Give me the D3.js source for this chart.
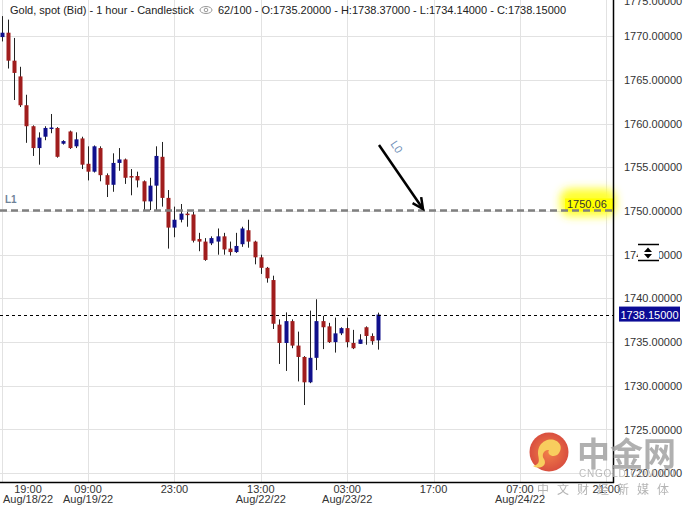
<!DOCTYPE html>
<html>
<head>
<meta charset="utf-8">
<script src="https://d3js.org/d3.v7.min.js"></script>
<style>
  body { margin: 0; background: #fff; }
  svg { display: block; font-family: Arial, "Liberation Sans", sans-serif; }
</style>
</head>
<body>
<script>
// OHLC, one bar per hour, oldest first
var opens  = [1769.9,1770.4,1767.2,1765.4,1762.1,1759.7,1757.2,1758.5,1759.5,1759.5,1757.7,1759.1,1757.4,1758.3,1755.4,1754.5,1757.2,1754.1,1753.0,1755.5,1755.9,1754.0,1754.0,1753.4,1751.1,1752.9,1756.2,1751.5,1748.1,1749.0,1749.7,1749.6,1746.8,1746.5,1746.3,1746.5,1747.1,1745.7,1745.3,1746.2,1747.8,1746.5,1744.7,1743.5,1742.1,1737.0,1734.9,1737.4,1734.6,1733.3,1730.4,1733.2,1737.4,1736.8,1735.0,1736.0,1736.6,1734.9,1734.8,1736.7,1735.7,1735.2];
var highs  = [1772.3,1771.9,1769.8,1766.5,1763.3,1759.8,1759.0,1759.7,1761.1,1759.6,1758.1,1759.2,1759.0,1758.5,1757.4,1757.5,1757.4,1754.3,1756.6,1757.2,1756.0,1754.8,1754.5,1753.5,1753.8,1757.4,1757.9,1752.4,1750.5,1750.8,1749.9,1749.9,1747.5,1746.9,1747.1,1748.0,1747.5,1746.5,1747.5,1748.2,1749.0,1746.6,1745.0,1743.6,1742.6,1737.6,1738.4,1737.6,1736.2,1733.4,1738.6,1739.9,1738.0,1737.2,1737.8,1736.7,1737.8,1736.4,1735.9,1736.8,1736.0,1738.37];
var lows   = [1769.4,1766.3,1762.7,1761.9,1757.8,1756.3,1755.3,1758.1,1758.9,1756.1,1757.6,1757.1,1757.2,1754.8,1753.5,1754.4,1753.4,1751.6,1752.2,1754.6,1753.1,1751.8,1752.7,1750.1,1750.1,1750.1,1750.5,1745.7,1747.0,1748.7,1748.2,1746.4,1745.4,1744.3,1746.1,1745.0,1745.0,1744.9,1745.2,1745.9,1745.8,1743.9,1742.8,1741.8,1736.5,1732.5,1731.7,1734.3,1730.5,1727.8,1730.3,1731.8,1734.2,1734.9,1733.8,1735.8,1734.4,1734.2,1734.8,1734.7,1734.7,1734.14];
var closes = [1770.4,1767.2,1765.8,1762.1,1759.7,1757.2,1758.4,1759.5,1759.55,1756.2,1758.0,1757.2,1758.2,1755.3,1754.5,1757.4,1754.1,1753.0,1755.5,1755.9,1753.8,1753.85,1753.5,1751.1,1752.9,1756.3,1751.5,1748.1,1749.0,1749.7,1749.6,1746.6,1746.5,1744.4,1746.9,1747.1,1745.6,1745.3,1746.0,1748.0,1746.5,1744.7,1743.5,1742.3,1737.1,1734.9,1737.4,1734.6,1733.3,1730.4,1733.2,1737.4,1736.7,1735.0,1736.0,1736.6,1735.0,1734.3,1735.3,1735.7,1735.1,1738.15];

var priceTicks = [1720,1725,1730,1735,1740,1745,1750,1755,1760,1765,1770,1775];
var timeTickIdx = [0,14,28,42,56,70,84,98];
var timeTickHour = ["19:00","09:00","23:00","13:00","03:00","17:00","07:00","21:00"];
var timeTickDate = ["Aug/18/22","Aug/19/22","","Aug/22/22","Aug/23/22","","Aug/24/22",""];

var levelL1 = 1750.06;
var lastPrice = 1738.15;

var W = 687, H = 506;
var plotR = 613, plotB = 482;

var svg = d3.select("body").append("svg").attr("width", W).attr("height", H);
var defs = svg.append("defs");

var x = d3.scaleLinear().domain([0, 99]).range([1.7, 612.5]);
var y = d3.scaleLinear().domain([1720, 1775]).range([473.2, -7.5]);

var UP = "#10108c", DOWN = "#a01d1d";

// grid
svg.append("g").selectAll("line").data(priceTicks).enter().append("line")
  .attr("x1", 0).attr("x2", plotR)
  .attr("y1", function(d){ return Math.round(y(d)) + 0.5; })
  .attr("y2", function(d){ return Math.round(y(d)) + 0.5; })
  .attr("stroke", "#e2e2e2");
svg.append("g").selectAll("line").data(timeTickIdx).enter().append("line")
  .attr("y1", 0).attr("y2", plotB)
  .attr("x1", function(d){ return Math.round(x(d)) + 0.5; })
  .attr("x2", function(d){ return Math.round(x(d)) + 0.5; })
  .attr("stroke", "#e2e2e2");

// candles
var bars = d3.range(opens.length);
svg.append("g").selectAll("line").data(bars).enter().append("line")
  .attr("x1", function(i){ return Math.round(x(i)) + 0.5; })
  .attr("x2", function(i){ return Math.round(x(i)) + 0.5; })
  .attr("y1", function(i){ return y(highs[i]); })
  .attr("y2", function(i){ return y(lows[i]); })
  .attr("stroke", "#222").attr("stroke-width", 1);
svg.append("g").selectAll("rect").data(bars).enter().append("rect")
  .attr("x", function(i){ return Math.round(x(i)) - 1.5; })
  .attr("width", 4)
  .attr("y", function(i){ return y(Math.max(opens[i], closes[i])); })
  .attr("height", function(i){ return Math.max(1.5, Math.abs(y(opens[i]) - y(closes[i]))); })
  .attr("fill", function(i){ return closes[i] >= opens[i] ? UP : DOWN; });

// L1 level
var yL1 = y(levelL1);
var blur = defs.append("filter").attr("id", "glow").attr("x", "-50%").attr("y", "-50%").attr("width", "200%").attr("height", "200%");
blur.append("feGaussianBlur").attr("stdDeviation", 4);
svg.append("rect").attr("x", 560).attr("y", yL1 - 22).attr("width", 56).attr("height", 28)
  .attr("rx", 10).attr("fill", "#ffff33").attr("filter", "url(#glow)");
svg.append("rect").attr("x", 565).attr("y", yL1 - 12).attr("width", 48).attr("height", 13).attr("fill", "#ffff00");
svg.append("text").attr("x", 567).attr("y", yL1 - 2).attr("font-size", 11).attr("fill", "#333").text(levelL1.toFixed(2));
svg.append("line").attr("x1", 0).attr("x2", plotR).attr("y1", yL1).attr("y2", yL1)
  .attr("stroke", "#808080").attr("stroke-width", 2.5).attr("stroke-dasharray", "7,4");
svg.append("text").attr("x", 5).attr("y", yL1 - 7).attr("font-size", 10).attr("font-weight", "bold")
  .attr("fill", "#6f8399").text("L1");

// arrow L0
var ax1 = 379, ay1 = 145, ax2 = 423, ay2 = 209;
svg.append("line").attr("x1", ax1).attr("y1", ay1).attr("x2", ax2).attr("y2", ay2)
  .attr("stroke", "#000").attr("stroke-width", 2.5);
var ang = Math.atan2(ay2 - ay1, ax2 - ax1);
function tip(a) { return [ax2 - 12 * Math.cos(ang + a), ay2 - 12 * Math.sin(ang + a)]; }
svg.append("path").attr("d", "M" + tip(0.45) + "L" + ax2 + "," + ay2 + "L" + tip(-0.45))
  .attr("fill", "none").attr("stroke", "#000").attr("stroke-width", 2.5);
svg.append("text").attr("transform", "translate(390,144) rotate(56)")
  .attr("font-size", 11).attr("fill", "#6f8fb8").text("L0");

// last price line
var yLast = y(lastPrice);
svg.append("line").attr("x1", 0).attr("x2", plotR).attr("y1", Math.round(yLast) + 0.5).attr("y2", Math.round(yLast) + 0.5)
  .attr("stroke", "#000").attr("stroke-dasharray", "3,3");

// frame
svg.append("line").attr("x1", plotR + 0.5).attr("x2", plotR + 0.5).attr("y1", 0).attr("y2", plotB + 1).attr("stroke", "#000").attr("stroke-width", 1.5);
svg.append("line").attr("x1", 0).attr("x2", plotR + 1).attr("y1", plotB + 0.5).attr("y2", plotB + 0.5).attr("stroke", "#000").attr("stroke-width", 1.5);

// price axis
var yAxis = svg.append("g").attr("transform", "translate(" + (plotR + 11) + ",0)")
  .call(d3.axisRight(y).tickValues(priceTicks).tickSize(0).tickPadding(0).tickFormat(d3.format(".5f")));
yAxis.select(".domain").remove();
yAxis.selectAll("text").attr("font-size", 11).attr("fill", "#333").attr("font-family", "Arial, 'Liberation Sans', sans-serif");
yAxis.selectAll(".tick").filter(function(d){ return d === 1775; }).select("text").attr("dy", "1.05em");

// last price tag
svg.append("rect").attr("x", 619).attr("y", yLast - 8).attr("width", 61).attr("height", 15).attr("fill", "#0b0b96");
svg.append("text").attr("x", 649.5).attr("y", yLast + 4).attr("text-anchor", "middle")
  .attr("font-size", 11).attr("fill", "#fff").text(lastPrice.toFixed(5));

// scroll icon on the axis
var ic = svg.append("g");
ic.append("rect").attr("x", 638).attr("y", 243).attr("width", 21).attr("height", 19).attr("fill", "#fff");
ic.append("line").attr("x1", 638).attr("x2", 659).attr("y1", 244.5).attr("y2", 244.5).attr("stroke", "#000").attr("stroke-width", 1.5);
ic.append("line").attr("x1", 638).attr("x2", 659).attr("y1", 260.5).attr("y2", 260.5).attr("stroke", "#000").attr("stroke-width", 1.5);
ic.append("path").attr("d", "M644,252 L648,247.5 L652,252 Z M644,254 L648,258.5 L652,254 Z").attr("fill", "#000");

// time axis
var xt = svg.append("g").selectAll("g").data(timeTickIdx).enter().append("g");
function labelX(d) { return Math.max(28, x(d)); }
xt.append("text").attr("x", labelX).attr("y", 493).attr("text-anchor", "middle")
  .attr("font-size", 11).attr("fill", "#333").text(function(d, i){ return timeTickHour[i]; });
xt.append("text").attr("x", labelX).attr("y", 503).attr("text-anchor", "middle")
  .attr("font-size", 11).attr("fill", "#333").text(function(d, i){ return timeTickDate[i]; });

// watermark, stamped over the corner
var wm = svg.append("g").attr("opacity", 0.85);
var grad = defs.append("radialGradient").attr("id", "lg");
grad.append("stop").attr("offset", "0%").attr("stop-color", "#f06a2a");
grad.append("stop").attr("offset", "100%").attr("stop-color", "#d3311e");
wm.append("circle").attr("cx", 549).attr("cy", 452).attr("r", 19.5).attr("fill", "url(#lg)");
wm.append("path")
  .attr("d", "M545,441 C555,436 565,445 559,453 C555,459 546,455 549,450 C544,449 541,455 544,459 C548,466 539,470 533,466 C542,464 538,458 538,453 C538,447 541,443 545,441 Z")
  .attr("fill", "#f7c542");
wm.append("text").attr("x", 577).attr("y", 466).attr("font-size", 33).attr("font-weight", "bold")
  .attr("font-family", "'Noto Sans CJK SC', sans-serif").attr("fill", "#a3a3a3").text("中金网");
wm.append("text").attr("x", 579).attr("y", 477).attr("font-size", 10).attr("fill", "#b0b0b0")
  .attr("letter-spacing", 0.8).text("CNGOLD.COM.CN");
wm.append("text").attr("x", 537).attr("y", 494).attr("font-size", 12)
  .attr("font-family", "'Noto Sans CJK SC', sans-serif").attr("fill", "#a8a8a8")
  .attr("letter-spacing", 8).text("中文财经新媒体");

// title
svg.append("text").attr("x", 10).attr("y", 14).attr("font-size", 11).attr("fill", "#222")
  .text("Gold, spot (Bid) - 1 hour - Candlestick");
var eye = svg.append("g").attr("transform", "translate(206,10)").attr("fill", "none").attr("stroke", "#999");
eye.append("ellipse").attr("rx", 6).attr("ry", 3.5);
eye.append("circle").attr("r", 1.8);
svg.append("text").attr("x", 218).attr("y", 14).attr("font-size", 11).attr("fill", "#222")
  .text("62/100 - O:1735.20000 - H:1738.37000 - L:1734.14000 - C:1738.15000");
</script>
</body>
</html>
